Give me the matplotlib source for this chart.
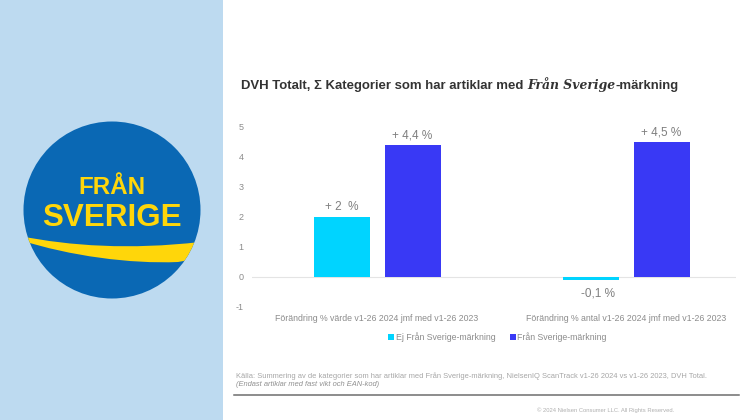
import numpy as np
from matplotlib import pyplot as plt
from matplotlib.patches import Circle, PathPatch, Rectangle
from matplotlib.path import Path

plt.rcParams['font.family'] = ['Liberation Sans', 'DejaVu Sans']
plt.rcParams['axes.unicode_minus'] = False

categories = ['Förändring % värde v1-26 2024 jmf med v1-26 2023',
              'Förändring % antal v1-26 2024 jmf med v1-26 2023']
series_names = ['Ej Från Sverige-märkning', 'Från Sverige-märkning']
ej_fran = [2.0, -0.1]
fran = [4.4, 4.5]
ej_labels = ['+ 2  %', '-0,1 %']
fran_labels = ['+ 4,4 %', '+ 4,5 %']
y_ticks = [-1, 0, 1, 2, 3, 4, 5]

W, H = 746, 420
CYAN = '#00D4FF'
BLUE = '#3939F5'
GREY = '#7F7F7F'

fig = plt.figure(figsize=(W / 100, H / 100), dpi=100, facecolor='white')

# background layer in pixel coords, y pointing down
bg = fig.add_axes([0, 0, 1, 1])
bg.set_xlim(0, W)
bg.set_ylim(H, 0)
bg.axis('off')
bg.add_patch(Rectangle((0, 0), 222.5, H, fc='#BDDAF0', ec='none'))

# logo
disc = Circle((112, 210), 88.5, fc='#0A68B4', ec='none')
bg.add_patch(disc)
swoosh = Path([(20, 236), (70, 246), (130, 250), (200, 242),
               (200, 258), (178, 262), (178, 262), (130, 264), (70, 256), (20, 240), (20, 236)],
              [Path.MOVETO, Path.CURVE4, Path.CURVE4, Path.CURVE4,
               Path.LINETO, Path.LINETO, Path.LINETO, Path.CURVE4, Path.CURVE4, Path.CURVE4, Path.CLOSEPOLY])
band = PathPatch(swoosh, fc='#FFD60A', ec='none')
bg.add_patch(band)
band.set_clip_path(disc)
bg.text(111.5, 194, 'FRÅN', color='#FFD60A', fontsize=17.4, fontweight='bold',
        ha='center', va='baseline')
bg.text(112, 226, 'SVERIGE', color='#FFD60A', fontsize=22.6, fontweight='bold',
        ha='center', va='baseline')

# title in three pieces
t1 = bg.text(241, 85.5, 'DVH Totalt, Σ Kategorier som har artiklar med ', color='#333333',
             fontsize=9.45, fontweight='bold', va='center')
t2 = bg.annotate('Från Sverige', xy=(1, 0), xycoords=t1, va='bottom', color='#333333',
                 fontsize=8.9, fontweight='bold', style='italic', family='DejaVu Serif')
bg.annotate('-märkning', xy=(1, 0), xycoords=t2, va='bottom', color='#333333',
            fontsize=9.45, fontweight='bold')

# chart
ax = fig.add_axes([252 / W, 1 - 307 / H, (736 - 252) / W, 180 / H])
ax.patch.set_alpha(0)
x = np.arange(len(categories))
width = 56 / 249
offset = 35.5 / 249
b1 = ax.bar(x - offset, ej_fran, width, color=CYAN, label=series_names[0])
b2 = ax.bar(x + offset, fran, width, color=BLUE, label=series_names[1])
ax.set_xlim(-125 / 249, 1 + 110 / 249)
ax.set_ylim(-1, 5)
ax.axhline(0, color='#E4E4E4', lw=0.8, zorder=0)
ax.set_yticks(y_ticks)
ax.set_xticks(x)
ax.set_xticklabels(categories)
ax.tick_params(axis='both', length=0, colors='#8C8C8C', labelsize=6.5)
ax.tick_params(axis='x', labelsize=6.3, pad=5)
ax.tick_params(axis='y', pad=6)
for s in ax.spines.values():
    s.set_visible(False)

for xi, v, lab in zip(x - offset, ej_fran, ej_labels):
    if v < 0:
        ax.annotate(lab, (xi + 0.03, v), xytext=(0, -5.5), textcoords='offset points',
                    ha='center', va='top', color=GREY, fontsize=8.5)
    else:
        ax.annotate(lab, (xi, v), xytext=(0, 2.8), textcoords='offset points',
                    ha='center', va='bottom', color=GREY, fontsize=8.5)
for xi, v, lab in zip(x + offset, fran, fran_labels):
    ax.annotate(lab, (xi, v), xytext=(0, 2.8), textcoords='offset points',
                ha='center', va='bottom', color=GREY, fontsize=8.5)

fig.legend(handles=[b1, b2], loc='center', bbox_to_anchor=(497.5 / W, 1 - 337 / H), ncol=2,
           frameon=False, fontsize=6.3, labelcolor='#8C8C8C', handlelength=0.65, handleheight=0.65,
           handletextpad=0.2, columnspacing=1.7, borderpad=0)

# footer
bg.text(236, 376, 'Källa: Summering av de kategorier som har artiklar med Från Sverige-märkning, '
        'NielsenIQ ScanTrack v1-26 2024 vs v1-26 2023, DVH Total.',
        color='#A6A6A6', fontsize=5.4, va='center')
bg.text(236, 385, '(Endast artiklar med fast vikt och EAN-kod)', color='#909090',
        fontsize=5.4, style='italic', va='center')
bg.plot([234, 739], [395, 395], color='#6E6E6E', lw=1.1)
bg.text(537, 410, '© 2024 Nielsen Consumer LLC. All Rights Reserved.', color='#B0B0B0',
        fontsize=4.2, va='center')

fig.savefig('out.png', dpi=100)
